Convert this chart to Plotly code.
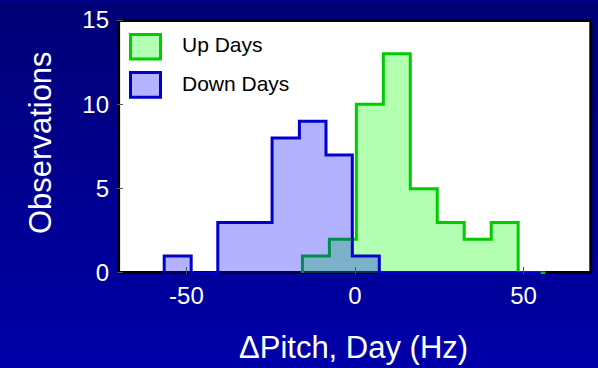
import plotly.graph_objects as go

# Histogram bins (left edges + final right edge) and counts per bin
up_edges = [-15.6, -7.6, 0.4, 8.4, 16.4, 24.4, 32.4, 40.4, 48.4, 56.4]
up_counts = [1, 2, 10, 13, 5, 3, 2, 3, 0]

down_edges = [-56.6, -48.6, -40.7, -32.7, -24.6, -16.5, -8.6, -0.8, 7.2,
              15.2, 23.1, 31.1, 39.1, 47.1, 55.1]
down_counts = [1, 0, 3, 3, 8, 9, 7, 1, 0, 0, 0, 0, 0, 0]

x_ticks = [-50, 0, 50]
x_tick_labels = ["-50", "0", "50"]
y_ticks = [0, 5, 10, 15]
y_tick_labels = ["0", "5", "10", "15"]

series_names = ["Up Days", "Down Days"]

W, H = 598, 368
L, R, T, B = 117, 6, 17, 94
PW, PH = W - L - R, H - T - B


def px_x(px):
    return (px - L) / PW


def px_y(py):
    return (H - B - py) / PH


def stairs(edges, counts):
    xs = [edges[0]] + list(edges[:-1]) + [edges[-1], edges[-1]]
    ys = [0] + list(counts) + [counts[-1], 0]
    return xs, ys


UP_LINE, UP_FILL = "rgb(0,204,0)", "rgba(0,255,0,0.3)"
DN_LINE, DN_FILL = "rgb(0,0,204)", "rgba(0,0,255,0.3)"

fig = go.Figure()
for (edges, counts, lc, fc, name) in [
    (up_edges, up_counts, UP_LINE, UP_FILL, series_names[0]),
    (down_edges, down_counts, DN_LINE, DN_FILL, series_names[1]),
]:
    xs, ys = stairs(edges, counts)
    fig.add_trace(go.Scatter(
        x=xs, y=ys, mode="lines", line=dict(shape="hv", color=lc, width=3),
        fill="tozeroy", fillcolor=fc, name=name, hoverinfo="skip",
    ))

shapes = []
# vertical background gradient
N = 46
top, bot = (0, 0, 118), (0, 0, 168)
for i in range(N):
    f = i / (N - 1)
    c = tuple(round(top[k] + (bot[k] - top[k]) * f) for k in range(3))
    y0 = H * i / N
    y1 = H * (i + 1) / N + 0.5
    shapes.append(dict(type="rect", xref="paper", yref="paper", layer="below",
                       x0=px_x(0), x1=px_x(W), y0=px_y(y1), y1=px_y(y0),
                       line=dict(width=0), fillcolor="rgb(%d,%d,%d)" % c))
# white frame with black border
shapes.append(dict(type="rect", xref="paper", yref="paper", layer="below",
                   x0=px_x(118.6), x1=px_x(590.8), y0=px_y(272.5), y1=px_y(18.6),
                   line=dict(color="black", width=3), fillcolor="white"))
# legend swatches
for (y0, y1, lc, fc) in [(32.5, 57.3, UP_LINE, "rgb(179,255,179)"),
                         (70.8, 95.8, DN_LINE, "rgb(179,179,255)")]:
    shapes.append(dict(type="rect", xref="paper", yref="paper", layer="above",
                       x0=px_x(130.5), x1=px_x(160.5), y0=px_y(y1), y1=px_y(y0),
                       line=dict(color=lc, width=3), fillcolor=fc))

font = "Arial, 'Liberation Sans', sans-serif"
annotations = [
    dict(text=series_names[0], x=px_x(180), y=px_y(43), xref="paper", yref="paper",
         xanchor="left", yanchor="middle", showarrow=False,
         font=dict(family=font, size=21, color="black")),
    dict(text=series_names[1], x=px_x(180), y=px_y(82.5), xref="paper", yref="paper",
         xanchor="left", yanchor="middle", showarrow=False,
         font=dict(family=font, size=21, color="black")),
    dict(text="ΔPitch, Day (Hz)", x=px_x(353), y=px_y(348.3), xref="paper", yref="paper",
         xanchor="center", yanchor="middle", showarrow=False,
         font=dict(family=font, size=31, color="white")),
    dict(text="Observations", x=px_x(40.5), y=px_y(141.5), xref="paper", yref="paper",
         xanchor="center", yanchor="middle", showarrow=False, textangle=-90,
         font=dict(family=font, size=31, color="white")),
]

fig.update_layout(
    width=W, height=H, margin=dict(l=L, r=R, t=T, b=B, pad=0),
    paper_bgcolor="rgb(0,0,140)", plot_bgcolor="rgba(0,0,0,0)",
    showlegend=False, shapes=shapes, annotations=annotations,
    font=dict(family=font),
    xaxis=dict(range=[-70.6, 70.3], tickvals=x_ticks, ticktext=x_tick_labels,
               ticks="inside", ticklen=7, ticklabelstandoff=5,
               tickcolor="#555", tickwidth=1, showgrid=False, zeroline=False,
               showline=False, tickfont=dict(size=24, color="white"), fixedrange=True),
    yaxis=dict(range=[-0.06, 15.06], tickvals=y_ticks, ticktext=y_tick_labels,
               ticks="inside", ticklen=6, ticklabelstandoff=7,
               tickcolor="#555", tickwidth=1, showgrid=False, zeroline=False,
               showline=False, tickfont=dict(size=24, color="white"), fixedrange=True),
)

fig.write_html("out.html")
